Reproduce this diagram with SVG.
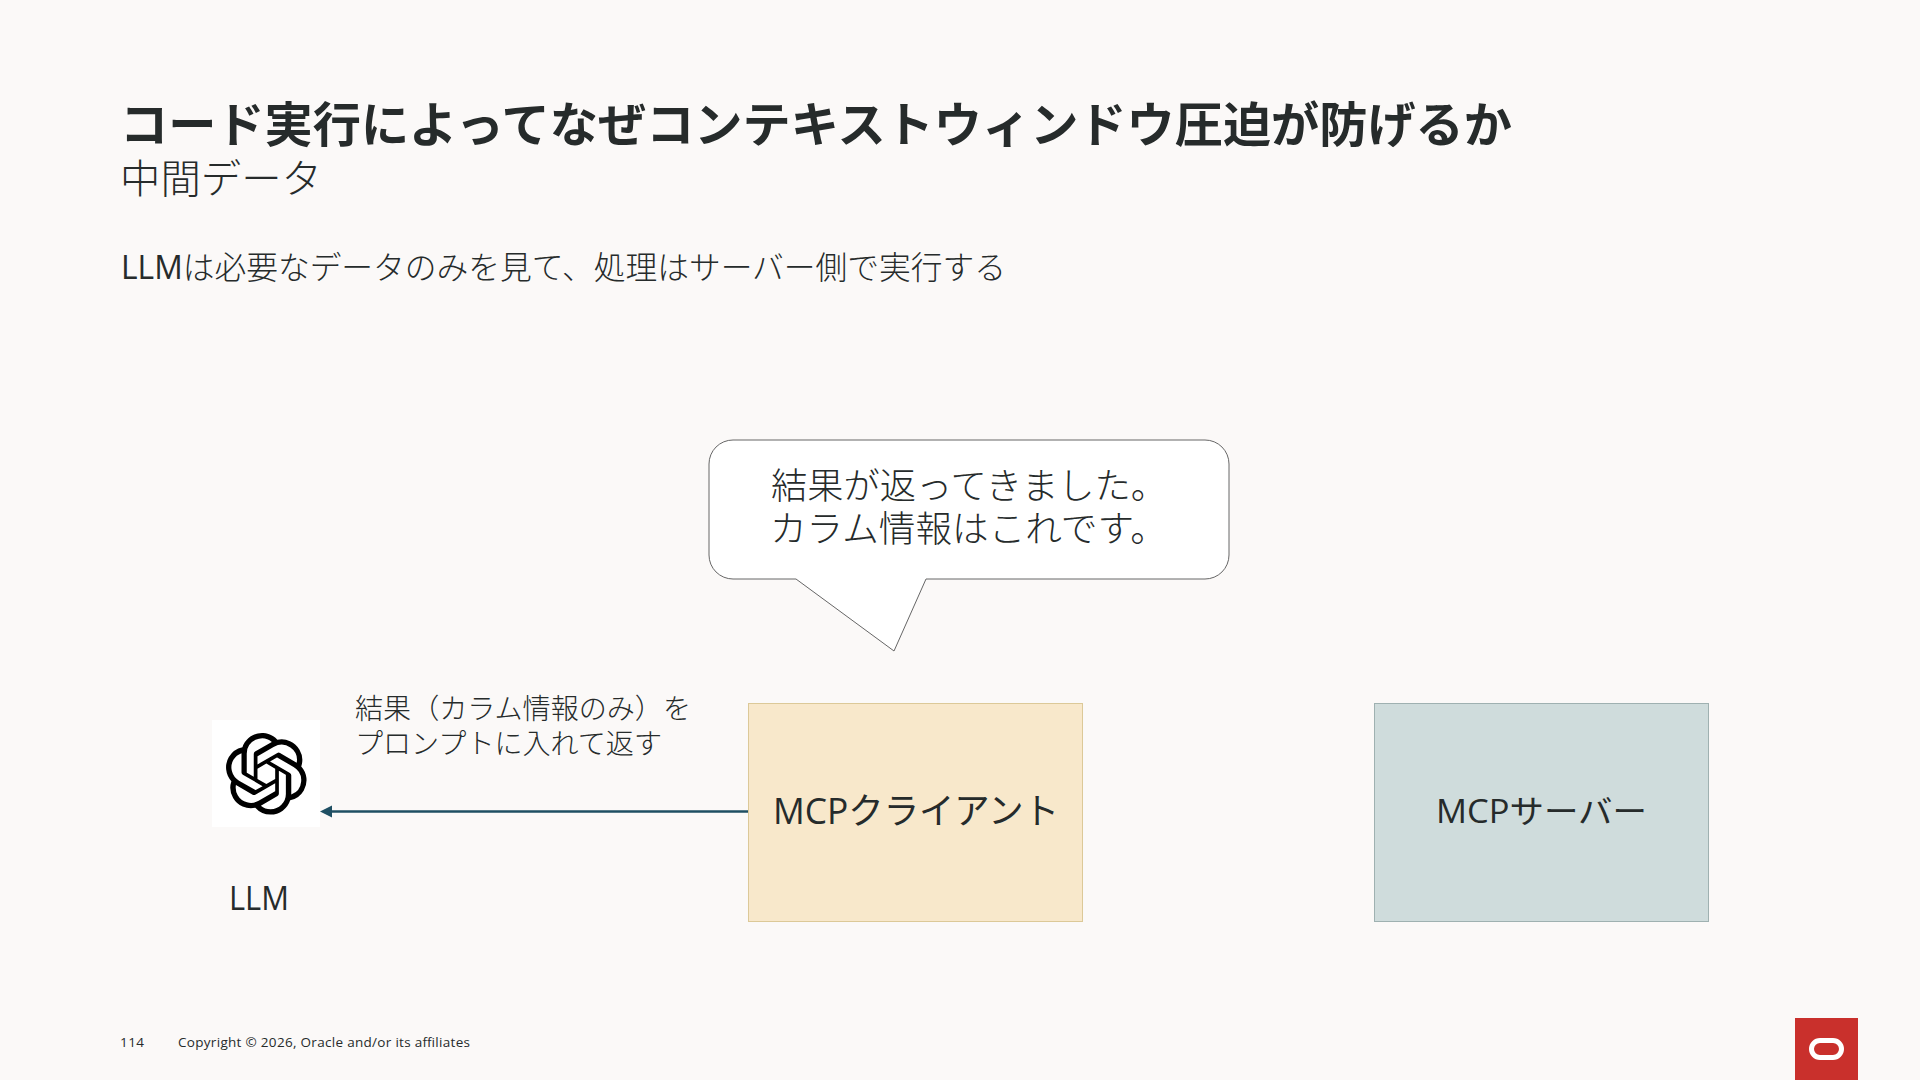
<svg xmlns="http://www.w3.org/2000/svg" width="1920" height="1080" viewBox="0 0 1920 1080">
<defs>
<marker id="head" markerUnits="userSpaceOnUse" markerWidth="14" markerHeight="14" refX="1" refY="7" orient="auto"><path d="M1 1L13 7L1 13Z" fill="#1F4F63"/></marker>
</defs>
<style>
text{font-family:"Open Sans","Noto Sans CJK JP",sans-serif;fill:#262B2B;font-weight:300}
.n{font-weight:400}
.box{stroke-width:1}
</style>
<rect width="1920" height="1080" fill="#FBF9F8"/>
<g id="heading">
<text x="120" y="142" font-size="48" style="font-weight:700" textLength="1392" lengthAdjust="spacingAndGlyphs">コード実行によってなぜコンテキストウィンドウ圧迫が防げるか</text>
<text x="120" y="193" font-size="40" textLength="202" lengthAdjust="spacingAndGlyphs">中間データ</text>
<text x="121" y="279" font-size="32" textLength="885" lengthAdjust="spacingAndGlyphs"><tspan class="n">LLM</tspan>は必要なデータのみを見て、処理はサーバー側で実行する</text>
</g>
<g id="connectors">
<path d="M748 811.500H332" fill="none" stroke="#1F4F63" stroke-width="2.5" marker-end="url(#head)"/>
</g>
<g id="llm">
<rect x="212" y="720" width="108" height="107" fill="#FFFFFF"/>
<path transform="translate(225.500 733) scale(3.4)" fill="#000000" d="M22.2819 9.8211a5.9847 5.9847 0 0 0-.5157-4.9108 6.0462 6.0462 0 0 0-6.5098-2.9A6.0651 6.0651 0 0 0 4.9807 4.1818a5.9847 5.9847 0 0 0-3.9977 2.9 6.0462 6.0462 0 0 0 .7427 7.0966 5.98 5.98 0 0 0 .511 4.9107 6.051 6.051 0 0 0 6.5146 2.9001A5.9847 5.9847 0 0 0 13.2599 24a6.0557 6.0557 0 0 0 5.7718-4.2058 5.9894 5.9894 0 0 0 3.9977-2.9001 6.0557 6.0557 0 0 0-.7475-7.0729zm-9.022 12.6081a4.4755 4.4755 0 0 1-2.8764-1.0408l.1419-.0804 4.7783-2.7582a.7948.7948 0 0 0 .3927-.6813v-6.7369l2.02 1.1686a.071.071 0 0 1 .038.052v5.5826a4.504 4.504 0 0 1-4.4945 4.4944zm-9.6607-4.1254a4.4708 4.4708 0 0 1-.5346-3.0137l.142.0852 4.783 2.7582a.7712.7712 0 0 0 .7806 0l5.8428-3.3685v2.3324a.0804.0804 0 0 1-.0332.0615L9.74 19.9502a4.4992 4.4992 0 0 1-6.1408-1.6464zM2.3408 7.8956a4.485 4.485 0 0 1 2.3655-1.9728V11.6a.7664.7664 0 0 0 .3879.6765l5.8144 3.3543-2.0201 1.1685a.0757.0757 0 0 1-.071 0l-4.8303-2.7865A4.504 4.504 0 0 1 2.3408 7.872zm16.5963 3.8558L13.1038 8.364 15.1192 7.2a.0757.0757 0 0 1 .071 0l4.8303 2.7913a4.4944 4.4944 0 0 1-.6765 8.1042v-5.6772a.79.79 0 0 0-.407-.667zm2.0107-3.0231l-.142-.0852-4.7735-2.7818a.7759.7759 0 0 0-.7854 0L9.409 9.2297V6.8974a.0662.0662 0 0 1 .0284-.0615l4.8303-2.7866a4.4992 4.4992 0 0 1 6.6802 4.66zM8.3065 12.863l-2.02-1.1638a.0804.0804 0 0 1-.038-.0567V6.0742a4.4992 4.4992 0 0 1 7.3757-3.4537l-.142.0805L8.704 5.459a.7948.7948 0 0 0-.3927.6813zm1.0976-2.3654l2.602-1.4998 2.6069 1.4998v2.9994l-2.5974 1.4997-2.6067-1.4997Z"/>
<text x="229" y="910" font-size="32" class="n" textLength="60" lengthAdjust="spacingAndGlyphs">LLM</text>
</g>
<g id="label-result">
<text x="355" y="719" font-size="28" textLength="336" lengthAdjust="spacingAndGlyphs">結果（カラム情報のみ）を</text>
<text x="355" y="754" font-size="28" textLength="307" lengthAdjust="spacingAndGlyphs">プロンプトに入れて返す</text>
</g>
<g id="callout">
<path d="M733 440H1205A24 24 0 0 1 1229 464V555A24 24 0 0 1 1205 579H926L894 651L796 579H733A24 24 0 0 1 709 555V464A24 24 0 0 1 733 440Z" fill="#FFFFFF" stroke="#666666" stroke-width="1"/>
<text x="771" y="499" font-size="36" textLength="396" lengthAdjust="spacingAndGlyphs">結果が返ってきました。</text>
<text x="770" y="542" font-size="36" textLength="397" lengthAdjust="spacingAndGlyphs">カラム情報はこれです。</text>
</g>
<g id="mcp-client">
<rect class="box" x="748.500" y="703.500" width="334" height="218" fill="#F8E8CB" stroke="#DCC998"/>
<text x="773" y="824" font-size="36" class="n" textLength="286" lengthAdjust="spacingAndGlyphs">MCPクライアント</text>
</g>
<g id="mcp-server">
<rect class="box" x="1374.500" y="703.500" width="334" height="218" fill="#CFDCDC" stroke="#9FB1B1"/>
<text x="1436" y="823" font-size="32" class="n" textLength="211" lengthAdjust="spacingAndGlyphs">MCPサーバー</text>
</g>
<g id="footer">
<text x="120" y="1047" font-size="13.500" class="n" textLength="24" lengthAdjust="spacing">114</text>
<text x="178" y="1047" font-size="13.500" class="n" textLength="292" lengthAdjust="spacing">Copyright © 2026, Oracle and/or its affiliates</text>
</g>
<g id="oracle-logo">
<rect x="1795" y="1018" width="63" height="62" fill="#C9302C"/>
<rect x="1811.500" y="1040.500" width="30" height="17" rx="8.500" fill="none" stroke="#FFFFFF" stroke-width="5"/>
</g>
</svg>
